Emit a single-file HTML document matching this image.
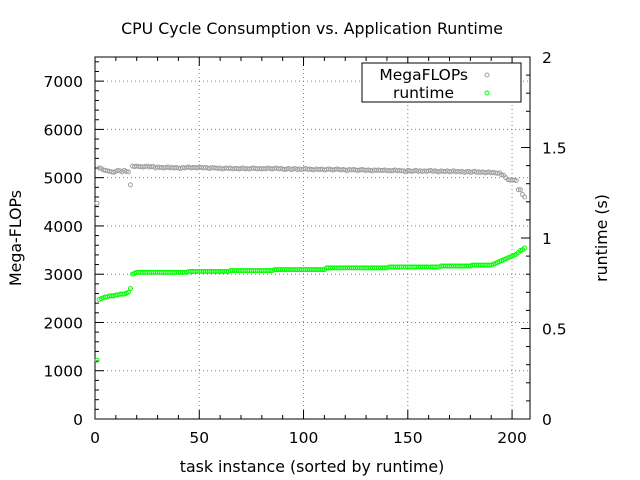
<!DOCTYPE html>
<html><head><meta charset="utf-8"><style>
body{margin:0;background:#fff}
svg{display:block;font-family:"DejaVu Sans","Liberation Sans",sans-serif}
</style></head><body>
<svg id="chart" width="640" height="480" viewBox="0 0 640 480">
<rect width="640" height="480" fill="#fff"/>
<g id="grid"></g>
<g id="axes"></g>
<g id="marks"></g>
<text x="312" y="34" text-anchor="middle" font-size="15.8">CPU Cycle Consumption vs. Application Runtime</text>
<text x="312" y="472" text-anchor="middle" font-size="15.8">task instance (sorted by runtime)</text>
<text transform="translate(21,238) rotate(-90)" text-anchor="middle" font-size="15.8">Mega-FLOPs</text>
<text transform="translate(607,238) rotate(-90)" text-anchor="middle" font-size="15.8">runtime (s)</text>
<g>
<rect x="362" y="63" width="159" height="39" fill="#fff" stroke="#000"/>
<text x="468" y="80" text-anchor="end" font-size="15.5">MegaFLOPs</text>
<circle cx="487" cy="75" r="2" fill="none" stroke="#a0a0a0"/>
<text x="454" y="98" text-anchor="end" font-size="15.5">runtime</text>
<circle cx="487" cy="93" r="2" fill="none" stroke="#00ff00"/>
</g>
</svg>
<script>
const xTicks=[0,50,100,150,200];
const yTicks=[0,1000,2000,3000,4000,5000,6000,7000];
const y2Ticks=[0,0.5,1,1.5,2];
const y2Labels=["0","0.5","1","1.5","2"];
const runtime=[0.325,
0.66,0.665,0.67,0.675,0.675,0.68,0.68,0.68,0.685,0.685,0.69,0.69,0.69,0.695,0.70,
0.72,0.80,0.805,
0.81,0.81,0.81,0.81,0.81,0.81,0.81,0.81,0.81,0.81,0.81,0.81,0.81,0.81,0.81,0.81,0.81,0.81,0.81,0.81,0.81,0.81,0.81,0.81,0.81,
0.815,0.815,0.815,0.815,0.815,0.815,0.815,0.815,0.815,0.815,0.815,0.815,0.815,0.815,0.815,0.815,0.815,0.815,0.815,0.815,
0.82,0.82,0.82,0.82,0.82,0.82,0.82,0.82,0.82,0.82,0.82,0.82,0.82,0.82,0.82,0.82,0.82,0.82,0.82,0.82,0.82,
0.825,0.825,0.825,0.825,0.825,0.825,0.825,0.825,0.825,0.825,0.825,0.825,0.825,0.825,0.825,0.825,0.825,0.825,0.825,0.825,0.825,0.825,0.825,0.825,0.825,
0.835,0.835,0.835,0.835,0.835,0.835,0.835,0.835,0.835,0.835,0.835,0.835,0.835,0.835,0.835,0.835,0.835,0.835,0.835,0.835,0.835,0.835,0.835,0.835,0.835,0.835,0.835,0.835,0.835,0.835,
0.84,0.84,0.84,0.84,0.84,0.84,0.84,0.84,0.84,0.84,0.84,0.84,0.84,0.84,0.84,0.84,0.84,0.84,0.84,0.84,0.84,0.84,0.84,0.84,0.84,
0.845,0.845,0.845,0.845,0.845,0.845,0.845,0.845,0.845,0.845,0.845,0.845,0.845,0.845,0.845,
0.85,0.85,0.85,0.85,0.85,0.85,0.85,0.85,0.85,0.85,
0.855,0.86,0.865,0.87,0.875,0.88,0.885,0.89,0.895,0.90,0.905,0.91,0.92,0.93,0.935,0.945];
const megaflops=[4470,
5200,5190,5160,5150,5140,5130,5120,5110,5130,5150,5140,5120,5150,5130,5120,
4850,
5240,5230,5240,5230,5230,5220,5230,5240,5220,5230,
5230,5200,5220,5210,5210,5200,5210,5220,5200,5210,
5200,5210,5200,5190,5210,5200,5210,5220,5200,5210,
5210,5200,5220,5210,5200,5210,5200,5190,5210,5200,
5200,5190,5200,5180,5190,5200,5190,5200,5180,5190,
5190,5180,5190,5200,5180,5190,5180,5190,5200,5190,
5180,5190,5180,5190,5180,5200,5190,5180,5190,5200,
5180,5190,5180,5170,5180,5190,5170,5180,5190,5170,
5180,5170,5180,5190,5170,5180,5170,5160,5180,5170,
5170,5180,5160,5170,5180,5170,5160,5170,5180,5170,
5160,5170,5160,5150,5170,5160,5170,5160,5150,5160,
5170,5160,5150,5160,5150,5140,5160,5150,5160,5150,
5150,5160,5140,5150,5140,5150,5160,5140,5150,5140,
5140,5120,5150,5140,5130,5140,5150,5130,5140,5130,
5140,5130,5140,5150,5130,5140,5130,5120,5140,5130,
5130,5140,5120,5130,5140,5120,5130,5120,5130,5110,
5120,5130,5110,5120,5130,5110,5120,5110,5120,5100,
5110,5120,5100,5110,5100,5090,5100,5060,5050,5000,
4960,4950,4950,4950,4940,4750,4750,4650,4600];
const L=95,R=530,T=57,B=419,XMAX=208.6,YMAX=7500,Y2MAX=2;
const NS="http://www.w3.org/2000/svg";
const sx=v=>L+v/XMAX*(R-L), sy=v=>B-v/YMAX*(B-T), sy2=v=>B-v/Y2MAX*(B-T);
function mk(tag,at,parent){const e=document.createElementNS(NS,tag);for(const k in at)e.setAttribute(k,at[k]);parent.appendChild(e);return e;}
const grid=document.getElementById('grid'),axes=document.getElementById('axes'),marks=document.getElementById('marks');
xTicks.forEach(v=>{if(v>0){const g=mk('line',{x1:sx(v),x2:sx(v),y1:T,y2:B,stroke:'#808080','stroke-dasharray':'1,3'},grid);

}
const t=mk('text',{x:sx(v),y:B+24,'text-anchor':'middle','font-size':15.5},axes);t.textContent=v;


[[B,B-9],[T,T+9]].forEach(p=>{const l=mk('line',{x1:sx(v),x2:sx(v),y1:p[0],y2:p[1],stroke:'#000'},axes);

});});
for(let v=10;v<XMAX;v+=10){if(v%50===0)continue;[[B,B-4],[T,T+4]].forEach(p=>{const l=mk('line',{x1:sx(v),x2:sx(v),y1:p[0],y2:p[1],stroke:'#000'},axes);

});}
yTicks.forEach(v=>{if(v>0){const g=mk('line',{x1:L,x2:R,y1:sy(v),y2:sy(v),stroke:'#808080','stroke-dasharray':'1,3'},grid);

}
const t=mk('text',{x:L-12,y:sy(v)+6,'text-anchor':'end','font-size':15.5},axes);t.textContent=v;


const l=mk('line',{x1:L,x2:L+9,y1:sy(v),y2:sy(v),stroke:'#000'},axes);

});
for(let v=200;v<YMAX;v+=200){if(v%1000===0)continue;const l=mk('line',{x1:L,x2:L+4,y1:sy(v),y2:sy(v),stroke:'#000'},axes);

}
y2Ticks.forEach((v,i)=>{const t=mk('text',{x:R+12,y:sy2(v)+6,'text-anchor':'start','font-size':15.5},axes);t.textContent=y2Labels[i];


const l=mk('line',{x1:R,x2:R-9,y1:sy2(v),y2:sy2(v),stroke:'#000'},axes);

});
for(let k=1;k<20;k++){if(k%5===0)continue;const v=k/10;const l=mk('line',{x1:R,x2:R-4,y1:sy2(v),y2:sy2(v),stroke:'#000'},axes);

}
const fr=mk('rect',{x:L,y:T,width:R-L,height:B-T,fill:'none',stroke:'#000'},axes);


megaflops.forEach((v,i)=>{const c=mk('circle',{cx:sx(i+1),cy:sy(v),r:2,fill:'none',stroke:'#a0a0a0'},marks);

});
runtime.forEach((v,i)=>{const c=mk('circle',{cx:sx(i+1),cy:sy2(v),r:2,fill:'none',stroke:'#00ff00'},marks);

});
</script>
</body></html>
